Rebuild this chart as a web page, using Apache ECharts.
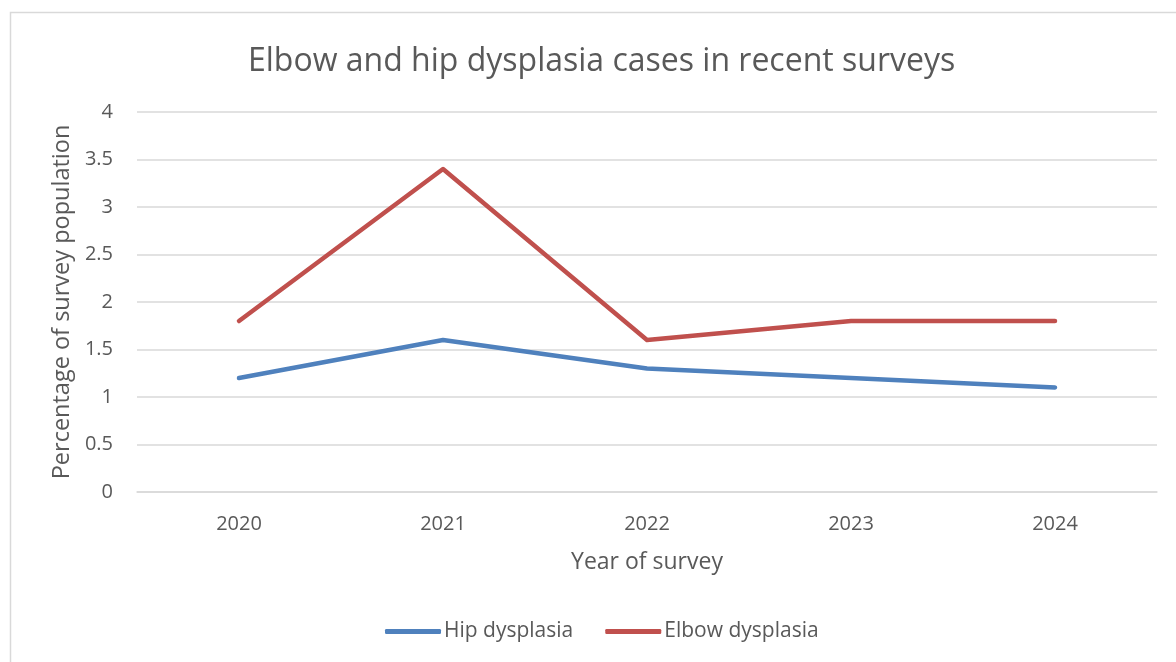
<!DOCTYPE html>
<html>
<head>
<meta charset="utf-8">
<script src="https://cdn.jsdelivr.net/npm/echarts@6/dist/echarts.min.js"></script>
<style>
  html, body { margin: 0; padding: 0; background: #fff; }
  #chart { width: 1176px; height: 662px; }
</style>
</head>
<body>
<div id="chart"></div>
<script>
// Survey years and the share of each population with the condition (%)
const years = ['2020', '2021', '2022', '2023', '2024'];
const hipDysplasia = [1.2, 1.6, 1.3, 1.2, 1.1];
const elbowDysplasia = [1.8, 3.4, 1.6, 1.8, 1.8];

const textColor = '#595959';
const fontFamily = '"Open Sans", "Noto Sans", sans-serif';

const chart = echarts.init(document.getElementById('chart'));
chart.setOption({
  animation: false,
  textStyle: { fontFamily: fontFamily, color: textColor },
  title: {
    text: 'Elbow and hip dysplasia cases in recent surveys',
    left: 243,
    top: 41,
    textStyle: { fontFamily: fontFamily, fontSize: 32, fontWeight: 'normal', color: textColor }
  },
  graphic: [{
    type: 'rect',
    shape: { x: 10.5, y: 12.5, width: 1200, height: 700 },
    style: { fill: 'none', stroke: '#D9D9D9', lineWidth: 1.5 },
    silent: true
  }],
  legend: {
    bottom: 15,
    left: 380,
    itemWidth: 56,
    itemHeight: 5,
    itemGap: 32,
    icon: 'roundRect',
    textStyle: { fontFamily: fontFamily, fontSize: 21, color: textColor, padding: [0, 0, 0, -2] },
    data: ['Hip dysplasia', 'Elbow dysplasia']
  },
  grid: { left: 137, right: 19, top: 112, bottom: 170, containLabel: false },
  xAxis: {
    type: 'category',
    data: years,
    boundaryGap: true,
    name: 'Year of survey',
    nameLocation: 'middle',
    nameGap: 59,
    nameTextStyle: { fontSize: 23, color: textColor },
    axisLine: { lineStyle: { color: '#D9D9D9', width: 1.5 } },
    axisTick: { show: false },
    axisLabel: { fontSize: 20, color: textColor, margin: 22 }
  },
  yAxis: {
    type: 'value',
    min: 0,
    max: 4,
    interval: 0.5,
    name: 'Percentage of survey population',
    nameLocation: 'middle',
    nameGap: 62,
    nameTextStyle: { fontSize: 23.5, color: textColor },
    axisLine: { show: false },
    axisTick: { show: false },
    axisLabel: { fontSize: 20, color: textColor, margin: 24 },
    splitLine: { lineStyle: { color: '#D9D9D9', width: 1.5 } }
  },
  series: [
    {
      name: 'Hip dysplasia',
      type: 'line',
      data: hipDysplasia,
      symbol: 'none',
      color: '#4F81BD',
      lineStyle: { width: 4.5, cap: 'round', join: 'round' }
    },
    {
      name: 'Elbow dysplasia',
      type: 'line',
      data: elbowDysplasia,
      symbol: 'none',
      color: '#C0504D',
      lineStyle: { width: 4.5, cap: 'round', join: 'round' }
    }
  ]
});
</script>
</body>
</html>
